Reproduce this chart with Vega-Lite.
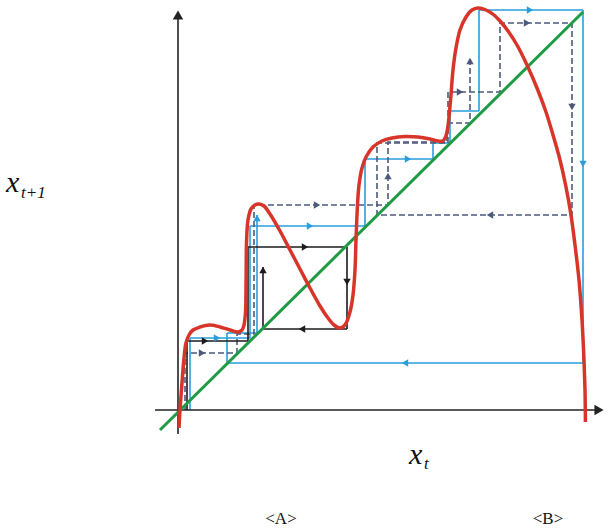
{
  "$schema": "https://vega.github.io/schema/vega-lite/v6.json",
  "width": 612,
  "height": 529,
  "autosize": {"type": "fit", "contains": "padding"},
  "padding": 0,
  "background": "white",
  "config": {"view": {"stroke": null}},
  "datasets": {
    "curve": [
      {"i":1,"X":1,"Y":-18},{"i":2,"X":2,"Y":0},{"i":3,"X":4,"Y":27},{"i":4,"X":6,"Y":52},{"i":5,"X":8,"Y":67},
      {"i":6,"X":11,"Y":75},{"i":7,"X":15,"Y":80},{"i":8,"X":22,"Y":83},{"i":9,"X":32,"Y":85},{"i":10,"X":42,"Y":83},
      {"i":11,"X":52,"Y":80},{"i":12,"X":60,"Y":78},{"i":13,"X":64,"Y":80},{"i":14,"X":66,"Y":85},{"i":15,"X":67.5,"Y":98},
      {"i":16,"X":68,"Y":120},{"i":17,"X":68.2,"Y":145},{"i":18,"X":68.6,"Y":170},{"i":19,"X":70,"Y":190},{"i":20,"X":73,"Y":201},
      {"i":21,"X":77,"Y":205},{"i":22,"X":81,"Y":206},{"i":23,"X":86,"Y":204},{"i":24,"X":92,"Y":196},{"i":25,"X":102,"Y":179},
      {"i":26,"X":112,"Y":160},{"i":27,"X":122,"Y":141},{"i":28,"X":132,"Y":122},{"i":29,"X":142,"Y":104},{"i":30,"X":150,"Y":92},
      {"i":31,"X":156,"Y":85},{"i":32,"X":162,"Y":82},{"i":33,"X":167,"Y":85},{"i":34,"X":172,"Y":98},{"i":35,"X":175,"Y":115},
      {"i":36,"X":177,"Y":140},{"i":37,"X":178,"Y":170},{"i":38,"X":179.5,"Y":205},{"i":39,"X":181,"Y":225},{"i":40,"X":184,"Y":242},
      {"i":41,"X":188,"Y":253},{"i":42,"X":195,"Y":263},{"i":43,"X":204,"Y":269},{"i":44,"X":214,"Y":272},{"i":45,"X":227,"Y":273.5},
      {"i":46,"X":240,"Y":273},{"i":47,"X":252,"Y":271},{"i":48,"X":260,"Y":269},{"i":49,"X":265,"Y":269},{"i":50,"X":268,"Y":274},
      {"i":51,"X":270,"Y":284},{"i":52,"X":271.5,"Y":298},{"i":53,"X":273,"Y":315},{"i":54,"X":275,"Y":340},{"i":55,"X":278,"Y":362},
      {"i":56,"X":282,"Y":380},{"i":57,"X":288,"Y":393},{"i":58,"X":294,"Y":400},{"i":59,"X":300,"Y":402},{"i":60,"X":308,"Y":400},
      {"i":61,"X":316,"Y":395},{"i":62,"X":322,"Y":389},{"i":63,"X":330,"Y":379},{"i":64,"X":339,"Y":365},{"i":65,"X":349,"Y":345},
      {"i":66,"X":359,"Y":322},{"i":67,"X":368,"Y":298},{"i":68,"X":375,"Y":275},{"i":69,"X":382,"Y":250},{"i":70,"X":388,"Y":223},
      {"i":71,"X":393,"Y":195},{"i":72,"X":397,"Y":165},{"i":73,"X":401,"Y":130},{"i":74,"X":404,"Y":90},{"i":75,"X":406,"Y":50},
      {"i":76,"X":407,"Y":20},{"i":77,"X":407.3,"Y":0},{"i":78,"X":407.4,"Y":-12}
    ],
    "diag": [{"i":1,"X":-18,"Y":-20},{"i":2,"X":405,"Y":398}],
    "axes": [
      {"ax":"h","i":1,"X":-23,"Y":0},{"ax":"h","i":2,"X":421,"Y":0},
      {"ax":"v","i":1,"X":0,"Y":-24},{"ax":"v","i":2,"X":0,"Y":392}
    ],
    "axisArrows": [
      {"dir":"right","X":421,"Y":0},{"dir":"up","X":0,"Y":395}
    ],
    "paths": [
      {"path":"blue","i":1,"X":12,"Y":0},{"path":"blue","i":2,"X":12,"Y":72},{"path":"blue","i":3,"X":72,"Y":72},
      {"path":"blue","i":4,"X":72,"Y":184},{"path":"blue","i":5,"X":187,"Y":184},{"path":"blue","i":6,"X":187,"Y":251},
      {"path":"blue","i":7,"X":255,"Y":251},{"path":"blue","i":8,"X":255,"Y":267},{"path":"blue","i":9,"X":272,"Y":267},
      {"path":"blue","i":10,"X":272,"Y":299},{"path":"blue","i":11,"X":301,"Y":299},{"path":"blue","i":12,"X":301,"Y":400},
      {"path":"blue","i":13,"X":405,"Y":400},{"path":"blue","i":14,"X":405,"Y":47},{"path":"blue","i":15,"X":49,"Y":47},
      {"path":"blue","i":16,"X":49,"Y":77},{"path":"blue","i":17,"X":79,"Y":77},{"path":"blue","i":18,"X":79,"Y":195},
      {"path":"dashA","i":1,"X":7,"Y":0},{"path":"dashA","i":2,"X":7,"Y":57},{"path":"dashA","i":3,"X":59,"Y":57},
      {"path":"dashA","i":4,"X":59,"Y":76},{"path":"dashA","i":5,"X":76,"Y":76},{"path":"dashA","i":6,"X":76,"Y":205},
      {"path":"dashA","i":7,"X":210,"Y":205},{"path":"dashA","i":8,"X":210,"Y":268},{"path":"dashA","i":9,"X":269,"Y":268},
      {"path":"dashA","i":10,"X":269,"Y":287},{"path":"dashA","i":11,"X":292,"Y":287},{"path":"dashA","i":12,"X":292,"Y":352},
      {"path":"dashB","i":1,"X":270,"Y":267},{"path":"dashB","i":2,"X":270,"Y":318},{"path":"dashB","i":3,"X":322,"Y":318},
      {"path":"dashB","i":4,"X":322,"Y":387},{"path":"dashB","i":5,"X":394,"Y":387},{"path":"dashB","i":6,"X":394,"Y":195},
      {"path":"dashB","i":7,"X":199,"Y":195},{"path":"dashB","i":8,"X":199,"Y":267},{"path":"dashB","i":9,"X":270,"Y":267},
      {"path":"black","i":1,"X":9,"Y":0},{"path":"black","i":2,"X":9,"Y":69},{"path":"black","i":3,"X":70,"Y":69},
      {"path":"black","i":4,"X":70,"Y":163},{"path":"black","i":5,"X":169,"Y":163},{"path":"black","i":6,"X":169,"Y":81},
      {"path":"black","i":7,"X":85,"Y":81},{"path":"black","i":8,"X":85,"Y":143}
    ],
    "arrows": [
      {"path":"black","dir":"right","X":27,"Y":69},{"path":"black","dir":"right","X":127,"Y":163},
      {"path":"black","dir":"down","X":169,"Y":128},{"path":"black","dir":"left","X":124,"Y":81},
      {"path":"black","dir":"up","X":85,"Y":140},
      {"path":"blue","dir":"right","X":39,"Y":72},{"path":"blue","dir":"right","X":132,"Y":184},
      {"path":"blue","dir":"right","X":230,"Y":251},{"path":"blue","dir":"right","X":352,"Y":400},
      {"path":"blue","dir":"down","X":405,"Y":246},{"path":"blue","dir":"left","X":227,"Y":47},
      {"path":"blue","dir":"up","X":79,"Y":192},
      {"path":"dashA","dir":"right","X":24,"Y":57},{"path":"dashA","dir":"right","X":139,"Y":205},
      {"path":"dashA","dir":"up","X":210,"Y":234},{"path":"dashA","dir":"up","X":292,"Y":349},
      {"path":"dashB","dir":"right","X":282,"Y":318},{"path":"dashB","dir":"right","X":349,"Y":387},
      {"path":"dashB","dir":"down","X":394,"Y":303},{"path":"dashB","dir":"left","X":312,"Y":195}
    ]
  },
  "encoding": {
    "x": {"field": "X", "type": "quantitative", "scale": {"domain": [-178, 434], "nice": false, "zero": false}, "axis": null},
    "y": {"field": "Y", "type": "quantitative", "scale": {"domain": [-119, 410], "nice": false, "zero": false}, "axis": null}
  },
  "layer": [
    {
      "data": {"name": "paths"},
      "mark": {"type": "line", "strokeWidth": 1.6},
      "encoding": {
        "order": {"field": "i", "type": "quantitative"},
        "color": {"field": "path", "type": "nominal", "scale": {"domain": ["blue", "dashA", "dashB", "black"], "range": ["#2a9edc", "#4d5a7c", "#4d5a7c", "#1c1c1c"]}, "legend": null},
        "strokeDash": {"field": "path", "type": "nominal", "scale": {"domain": ["blue", "dashA", "dashB", "black"], "range": [[1, 0], [6, 3], [6, 3], [1, 0]]}, "legend": null},
        "strokeWidth": {"field": "path", "type": "nominal", "scale": {"domain": ["blue", "dashA", "dashB", "black"], "range": [1.6, 2, 2, 1.6]}, "legend": null}
      }
    },
    {
      "data": {"name": "arrows"},
      "mark": {"type": "point", "filled": true, "opacity": 1, "size": 55, "strokeWidth": 0},
      "encoding": {
        "color": {"field": "path", "type": "nominal", "scale": {"domain": ["blue", "dashA", "dashB", "black"], "range": ["#2a9edc", "#4d5a7c", "#4d5a7c", "#1c1c1c"]}, "legend": null},
        "shape": {"field": "dir", "type": "nominal", "scale": {"domain": ["up", "down", "left", "right"], "range": ["triangle-up", "triangle-down", "triangle-left", "triangle-right"]}, "legend": null}
      }
    },
    {
      "data": {"name": "axes"},
      "mark": {"type": "line", "color": "#222222", "strokeWidth": 1.6},
      "encoding": {
        "detail": {"field": "ax", "type": "nominal"},
        "order": {"field": "i", "type": "quantitative"}
      }
    },
    {
      "data": {"name": "axisArrows"},
      "mark": {"type": "point", "filled": true, "opacity": 1, "size": 110, "strokeWidth": 0, "color": "#222222"},
      "encoding": {
        "shape": {"field": "dir", "type": "nominal", "scale": {"domain": ["up", "right"], "range": ["triangle-up", "triangle-right"]}, "legend": null}
      }
    },
    {
      "data": {"name": "diag"},
      "mark": {"type": "line", "color": "#1f9a45", "strokeWidth": 3},
      "encoding": {"order": {"field": "i", "type": "quantitative"}}
    },
    {
      "data": {"name": "curve"},
      "mark": {"type": "line", "color": "#d8352a", "strokeWidth": 3.5, "interpolate": "catmull-rom"},
      "encoding": {"order": {"field": "i", "type": "quantitative"}}
    },
    {
      "data": {"values": [{"t": "x", "X": -172, "Y": 218}, {"t": "x", "X": 231, "Y": -54}]},
      "mark": {"type": "text", "font": "Times New Roman, Liberation Serif, serif", "fontStyle": "italic", "fontSize": 30, "align": "left", "baseline": "alphabetic", "color": "#111111"},
      "encoding": {"text": {"field": "t", "type": "nominal"}}
    },
    {
      "data": {"values": [{"t": "t+1", "X": -157, "Y": 212}, {"t": "t", "X": 246, "Y": -59}]},
      "mark": {"type": "text", "font": "Times New Roman, Liberation Serif, serif", "fontStyle": "italic", "fontSize": 17, "align": "left", "baseline": "alphabetic", "color": "#111111"},
      "encoding": {"text": {"field": "t", "type": "nominal"}}
    },
    {
      "data": {"values": [{"t": "<A>", "X": 103, "Y": -114}, {"t": "<B>", "X": 370, "Y": -114}]},
      "mark": {"type": "text", "font": "Times New Roman, Liberation Serif, serif", "fontSize": 17, "align": "center", "baseline": "alphabetic", "color": "#111111"},
      "encoding": {"text": {"field": "t", "type": "nominal"}}
    }
  ]
}
